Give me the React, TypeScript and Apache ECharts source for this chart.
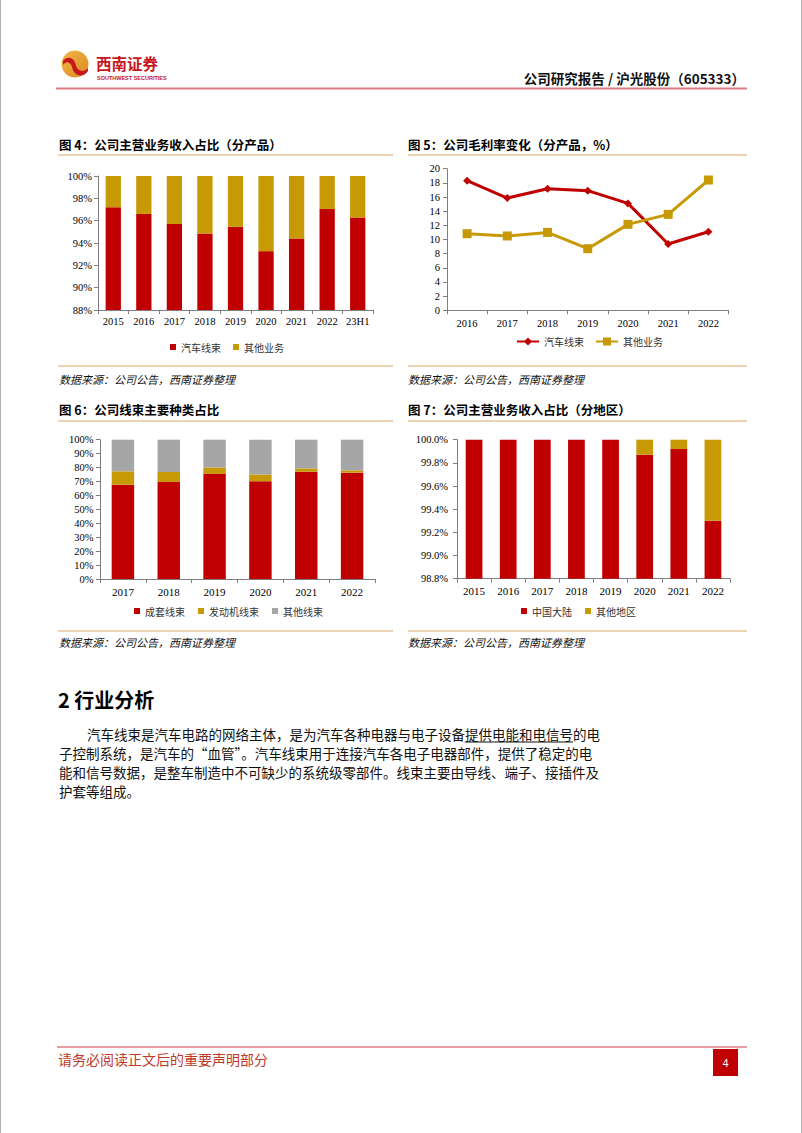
import React, { useEffect, useRef } from "react";
import * as echarts from "echarts";

// ---------- data ----------
const years4 = ["2015", "2016", "2017", "2018", "2019", "2020", "2021", "2022", "23H1"];
const harness4 = [97.2, 96.6, 95.7, 94.85, 95.45, 93.27, 94.4, 97.05, 96.28];
const other4 = [2.8, 3.4, 4.3, 5.15, 4.55, 6.73, 5.6, 2.95, 3.72];

const years5 = ["2016", "2017", "2018", "2019", "2020", "2021", "2022"];
const harness5 = [18.3, 15.86, 17.18, 16.9, 15.1, 9.36, 11.1];
const other5 = [10.82, 10.5, 11.0, 8.7, 12.14, 13.55, 18.4];

const years6 = ["2017", "2018", "2019", "2020", "2021", "2022"];
const set6 = [67.7, 69.6, 75.4, 70.1, 77.0, 76.3];
const engine6 = [9.6, 7.2, 4.7, 5.0, 2.4, 1.7];
const others6 = [22.7, 23.2, 19.9, 24.9, 20.6, 22.0];

const years7 = ["2015", "2016", "2017", "2018", "2019", "2020", "2021", "2022"];
const mainland7 = [100, 100, 100, 100, 100, 99.87, 99.92, 99.3];
const abroad7 = [0, 0, 0, 0, 0, 0.13, 0.08, 0.7];

const paragraph = [
  "汽车线束是汽车电路的网络主体，是为汽车各种电器与电子设备提供电能和电信号的电",
  "子控制系统，是汽车的“血管”。汽车线束用于连接汽车各电子电器部件，提供了稳定的电",
  "能和信号数据，是整车制造中不可缺少的系统级零部件。线束主要由导线、端子、接插件及",
  "护套等组成。",
];
const underlined = "提供电能和电信号";

const RED = "#C00000";
const GOLD = "#C79A05";
const GRAY = "#A6A6A6";
const TAN = "#D9A866";
const CJK = '"Noto Sans CJK SC", sans-serif';
const SERIF = '"Liberation Serif", serif';

let registered = false;
function registerLogo() {
  if (registered) return;
  registered = true;
  echarts.graphic.registerShape(
    "logoS",
    echarts.graphic.extendPath(
      "M1,9 C5,3 12,6 13,12 C14,18 20,22 25,16 L25,19 C20,27 11,23 10,16 C9,10 4,8 1,13 Z",
      {}
    )
  );
}

function measure(t: string, font: string): number {
  const c = document.createElement("canvas").getContext("2d");
  if (!c) return t.length * 13.5;
  c.font = font;
  return c.measureText(t).width;
}

export default function App() {
  const ref = useRef<HTMLDivElement>(null);
  useEffect(() => {
    if (!ref.current) return;
    registerLogo();
    const chart = echarts.init(ref.current, undefined, { renderer: "svg" });

    const axisLine = { show: true, lineStyle: { color: "#7F7F7F", width: 1 } };
    const axisTick = { show: true, length: 4, inside: false, lineStyle: { color: "#7F7F7F" } };
    const xLabel = { color: "#000", fontFamily: SERIF, fontSize: 11, margin: 6 };
    const yLabel = { color: "#000", fontFamily: SERIF, fontSize: 10.5, margin: 6 };

    const text = (t: string, x: number, y: number, o: any = {}) => ({
      type: "text",
      x,
      y,
      silent: true,
      style: {
        text: t,
        fill: o.fill || "#000",
        fontSize: o.fontSize || 12,
        fontWeight: o.fontWeight || "normal",
        fontStyle: o.fontStyle || "normal",
        fontFamily: o.fontFamily || CJK,
        align: o.align || "left",
        verticalAlign: "middle",
      },
    });
    const line = (x1: number, y1: number, x2: number, y2: number, stroke: string, w = 1) => ({
      type: "line",
      silent: true,
      shape: { x1, y1, x2, y2 },
      style: { stroke, lineWidth: w },
    });

    const pFont = 13.5;
    const pFontCss = `${pFont}px "Noto Sans CJK SC", sans-serif`;
    const idx = paragraph[0].indexOf(underlined);
    const ulStart = 87 + measure(paragraph[0].slice(0, idx), pFontCss);
    const ulEnd = ulStart + measure(underlined, pFontCss);

    const graphic: any[] = [
      // page edges
      line(0.5, 0, 0.5, 1133, "#B0B0B0"),
      line(801.5, 0, 801.5, 1133, "#B0B0B0"),
      // logo
      {
        type: "circle",
        silent: true,
        shape: { cx: 75, cy: 64, r: 13.5 },
        style: {
          fill: new echarts.graphic.LinearGradient(0, 0, 1, 1, [
            { offset: 0, color: "#F2B64A" },
            { offset: 1, color: "#D98A1E" },
          ]),
        },
      },
      { type: "logoS", x: 62, y: 52, scaleX: 1.04, scaleY: 1.0, silent: true, style: { fill: "#C8161D" } },
      text("西南证券", 96, 63, { fill: "#C8161D", fontSize: 15.5, fontWeight: "bold" }),
      text("SOUTHWEST SECURITIES", 97, 77.5, { fill: "#C8161D", fontSize: 5.5, fontFamily: '"Liberation Sans", sans-serif', fontWeight: "bold" }),
      text("公司研究报告 / 沪光股份（605333）", 745, 78, { fontSize: 13.5, fontWeight: "bold", align: "right", fill: "#111" }),
      line(56, 88.5, 747, 88.5, "#E07A82", 2),

      // figure titles
      text("图 4：公司主营业务收入占比（分产品）", 59, 144, { fontSize: 12.5, fontWeight: "bold" }),
      line(58, 155, 393, 155, TAN),
      text("图 5：公司毛利率变化（分产品，%）", 408, 144, { fontSize: 12.5, fontWeight: "bold" }),
      line(408, 155, 747, 155, TAN),
      line(58, 366, 393, 366, TAN),
      line(408, 366, 747, 366, TAN),
      text("数据来源：公司公告，西南证券整理", 59, 379, { fontSize: 11, fontStyle: "italic", fill: "#111" }),
      text("数据来源：公司公告，西南证券整理", 408, 379, { fontSize: 11, fontStyle: "italic", fill: "#111" }),

      text("图 6：公司线束主要种类占比", 59, 409, { fontSize: 12.5, fontWeight: "bold" }),
      line(58, 421, 393, 421, TAN),
      text("图 7：公司主营业务收入占比（分地区）", 408, 409, { fontSize: 12.5, fontWeight: "bold" }),
      line(408, 421, 747, 421, TAN),
      line(58, 631, 393, 631, TAN),
      line(408, 631, 747, 631, TAN),
      text("数据来源：公司公告，西南证券整理", 59, 642, { fontSize: 11, fontStyle: "italic", fill: "#111" }),
      text("数据来源：公司公告，西南证券整理", 408, 642, { fontSize: 11, fontStyle: "italic", fill: "#111" }),

      // section
      text("2 行业分析", 58, 699, { fontSize: 20, fontWeight: "bold", fill: "#000" }),
      text(paragraph[0], 87, 733.5, { fontSize: pFont, fill: "#111" }),
      text(paragraph[1], 59, 753, { fontSize: pFont, fill: "#111" }),
      text(paragraph[2], 59, 772, { fontSize: pFont, fill: "#111" }),
      text(paragraph[3], 59, 791, { fontSize: pFont, fill: "#111" }),
      line(ulStart, 742, ulEnd, 742, "#111", 1),

      // footer
      line(57, 1047, 747, 1047, "#E07A82", 1.5),
      text("请务必阅读正文后的重要声明部分", 58, 1059, { fontSize: 14, fill: "#C0392B" }),
      {
        type: "rect",
        silent: true,
        shape: { x: 713, y: 1049, width: 25, height: 27 },
        style: { fill: "#C00000" },
      },
      text("4", 725.5, 1062.5, { fontSize: 11, fill: "#fff", align: "center", fontFamily: '"Liberation Sans", sans-serif' }),
    ];

    const legendText = { color: "#333", fontSize: 10, fontFamily: CJK };

    chart.setOption({
      animation: false,
      backgroundColor: "#fff",
      grid: [
        { left: 98, top: 176, width: 275, height: 134 },
        { left: 447, top: 168.7, width: 281.5, height: 141.6 },
        { left: 100, top: 439.7, width: 275, height: 139.3 },
        { left: 457, top: 439.7, width: 273, height: 139 },
      ],
      xAxis: [
        { type: "category", gridIndex: 0, data: years4, axisLine, axisTick, axisLabel: { ...xLabel, fontSize: 10.5 } },
        { type: "category", gridIndex: 1, data: years5, axisLine, axisTick, axisLabel: { ...xLabel, fontSize: 10.5, margin: 8 } },
        { type: "category", gridIndex: 2, data: years6, axisLine, axisTick, axisLabel: { ...xLabel, margin: 7 } },
        { type: "category", gridIndex: 3, data: years7, axisLine, axisTick, axisLabel: { ...xLabel, margin: 7 } },
      ],
      yAxis: [
        {
          type: "value", gridIndex: 0, min: 88, max: 100, interval: 2,
          axisLine, axisTick, splitLine: { show: false },
          axisLabel: { ...yLabel, formatter: (v: number) => `${Math.round(v)}%` },
        },
        {
          type: "value", gridIndex: 1, min: 0, max: 20, interval: 2,
          axisLine, axisTick, splitLine: { show: false },
          axisLabel: { ...yLabel, margin: 7, formatter: (v: number) => `${Math.round(v)}` },
        },
        {
          type: "value", gridIndex: 2, min: 0, max: 100, interval: 10,
          axisLine, axisTick, splitLine: { show: false },
          axisLabel: { ...yLabel, margin: 6.5, formatter: (v: number) => `${Math.round(v)}%` },
        },
        {
          type: "value", gridIndex: 3, min: 98.8, max: 100, interval: 0.2,
          axisLine, axisTick, splitLine: { show: false },
          axisLabel: { ...yLabel, margin: 9, formatter: (v: number) => `${v.toFixed(1)}%` },
        },
      ],
      legend: [
        {
          left: 170, top: 342, padding: 0, itemWidth: 6, itemHeight: 6, itemGap: 12, textStyle: legendText,
          data: [{ name: "汽车线束", icon: "rect" }, { name: "其他业务", icon: "rect" }],
        },
        {
          left: 516, top: 336.5, padding: 0, itemWidth: 22, itemHeight: 10, itemGap: 11, textStyle: legendText,
          data: ["汽车线束 ", "其他业务 "],
          formatter: (n: string) => n.trim(),
        },
        {
          left: 134, top: 606, padding: 0, itemWidth: 6, itemHeight: 6, itemGap: 13, textStyle: legendText,
          data: [{ name: "成套线束", icon: "rect" }, { name: "发动机线束", icon: "rect" }, { name: "其他线束", icon: "rect" }],
        },
        {
          left: 521, top: 606, padding: 0, itemWidth: 6, itemHeight: 6, itemGap: 13, textStyle: legendText,
          data: [{ name: "中国大陆", icon: "rect" }, { name: "其他地区", icon: "rect" }],
        },
      ],
      series: [
        { name: "汽车线束", type: "bar", xAxisIndex: 0, yAxisIndex: 0, stack: "a", barWidth: "50%", data: harness4, itemStyle: { color: RED } },
        { name: "其他业务", type: "bar", xAxisIndex: 0, yAxisIndex: 0, stack: "a", barWidth: "50%", data: other4, itemStyle: { color: GOLD } },

        {
          name: "汽车线束 ", type: "line", xAxisIndex: 1, yAxisIndex: 1, data: harness5,
          symbol: "diamond", symbolSize: 8, lineStyle: { color: RED, width: 3 }, itemStyle: { color: RED },
        },
        {
          name: "其他业务 ", type: "line", xAxisIndex: 1, yAxisIndex: 1, data: other5,
          symbol: "rect", symbolSize: 9, lineStyle: { color: GOLD, width: 3 }, itemStyle: { color: GOLD },
        },

        { name: "成套线束", type: "bar", xAxisIndex: 2, yAxisIndex: 2, stack: "b", barWidth: "49%", data: set6, itemStyle: { color: RED } },
        { name: "发动机线束", type: "bar", xAxisIndex: 2, yAxisIndex: 2, stack: "b", barWidth: "49%", data: engine6, itemStyle: { color: GOLD } },
        { name: "其他线束", type: "bar", xAxisIndex: 2, yAxisIndex: 2, stack: "b", barWidth: "49%", data: others6, itemStyle: { color: GRAY } },

        { name: "中国大陆", type: "bar", xAxisIndex: 3, yAxisIndex: 3, stack: "c", barWidth: "49%", data: mainland7, itemStyle: { color: RED } },
        { name: "其他地区", type: "bar", xAxisIndex: 3, yAxisIndex: 3, stack: "c", barWidth: "49%", data: abroad7, itemStyle: { color: GOLD } },
      ],
      graphic: { elements: graphic },
    });

    return () => chart.dispose();
  }, []);

  return (
    <div
      ref={ref}
      style={{ position: "absolute", left: 0, top: 0, width: 802, height: 1133, background: "#fff" }}
    />
  );
}
